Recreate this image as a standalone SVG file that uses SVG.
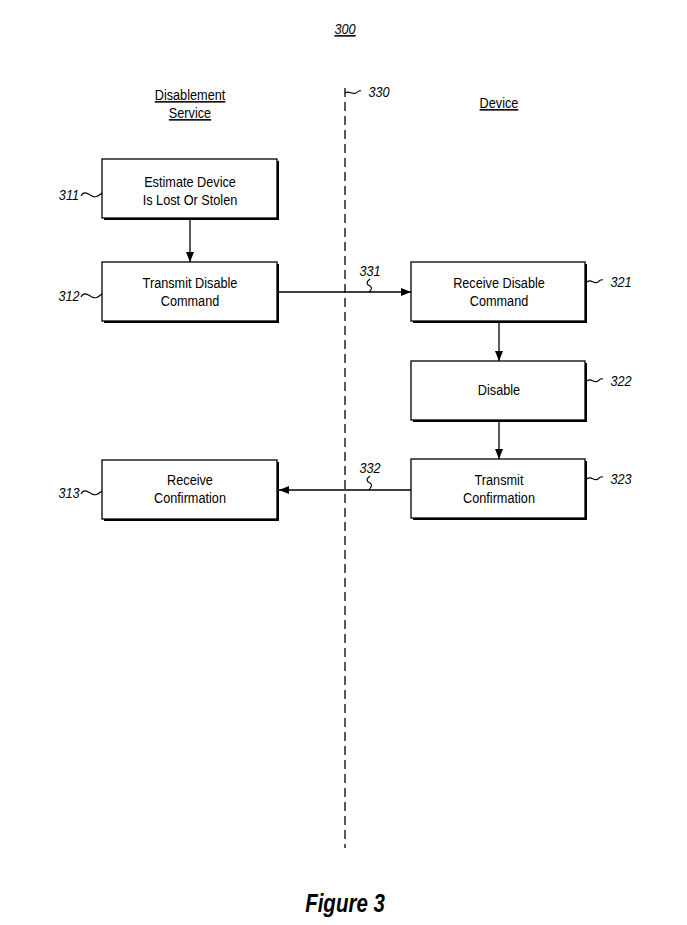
<svg xmlns="http://www.w3.org/2000/svg" width="687" height="925" viewBox="0 0 687 925">
<defs>
<style>
.box{fill:#fff;stroke:#000;stroke-width:1.3}
.sh{fill:#000}
.t,.ref,.fig{font-family:"Liberation Sans",Arial,sans-serif;text-anchor:middle;fill:#000;transform-box:fill-box;transform-origin:center;transform:scaleX(0.82)}
.t{font-size:15.5px}
.ref{font-size:15.5px;font-style:italic}
.fig{font-size:25px;font-weight:bold;font-style:italic}
.ln{fill:none;stroke:#000;stroke-width:1.3}
.sq{fill:none;stroke:#000;stroke-width:1.1}
</style>
<marker id="ah" markerWidth="10" markerHeight="8" refX="10" refY="4" orient="auto" markerUnits="userSpaceOnUse">
<path d="M0,0 L10,4 L0,8 Z" fill="#000"/>
</marker>
</defs>
<rect width="687" height="925" fill="#fff"/>

<text class="ref" x="345" y="34" text-decoration="underline">300</text>

<g id="headings">
<text class="t" x="190" y="100" text-decoration="underline">Disablement</text>
<text class="t" x="190" y="118" text-decoration="underline">Service</text>
<text class="t" x="499" y="108" text-decoration="underline">Device</text>
</g>

<g id="n330">
<line x1="345" y1="88" x2="345" y2="848" stroke="#000" stroke-width="1.3" stroke-dasharray="9,5"/>
<path class="sq" d="M345,93 C349,90 352,95 356,93 C358,92 359,90 361,91"/>
<text class="ref" x="379" y="97">330</text>
</g>

<g id="n311">
<rect class="sh" x="104" y="161" width="175" height="59"/>
<rect class="box" x="102" y="159" width="175" height="59"/>
<text class="t" x="190" y="187">Estimate Device</text>
<text class="t" x="190" y="205">Is Lost Or Stolen</text>
<text class="ref" x="69" y="200">311</text>
<path class="sq" d="M81,196 C84,190 88,194 92,196 C96,198 98,196 102,193"/>
</g>

<g id="n312">
<rect class="sh" x="104" y="264" width="175" height="59"/>
<rect class="box" x="102" y="262" width="175" height="59"/>
<text class="t" x="190" y="288">Transmit Disable</text>
<text class="t" x="190" y="306">Command</text>
<text class="ref" x="69" y="301">312</text>
<path class="sq" d="M81,297 C84,291 88,295 92,297 C96,299 98,297 102,294"/>
</g>

<g id="n313">
<rect class="sh" x="104" y="462" width="175" height="59"/>
<rect class="box" x="102" y="460" width="175" height="59"/>
<text class="t" x="190" y="485">Receive</text>
<text class="t" x="190" y="503">Confirmation</text>
<text class="ref" x="69" y="498">313</text>
<path class="sq" d="M81,494 C84,488 88,492 92,494 C96,496 98,494 102,491"/>
</g>

<g id="n321">
<rect class="sh" x="413" y="264" width="174" height="59"/>
<rect class="box" x="411" y="262" width="174" height="59"/>
<text class="t" x="499" y="288">Receive Disable</text>
<text class="t" x="499" y="306">Command</text>
<path class="sq" d="M587,282 C591,278 594,285 598,282 C600,280 601,279 603,280"/>
<text class="ref" x="621" y="287">321</text>
</g>

<g id="n322">
<rect class="sh" x="413" y="363" width="174" height="59"/>
<rect class="box" x="411" y="361" width="174" height="59"/>
<text class="t" x="499" y="395">Disable</text>
<path class="sq" d="M587,381 C591,377 594,384 598,381 C600,379 601,378 603,379"/>
<text class="ref" x="621" y="386">322</text>
</g>

<g id="n323">
<rect class="sh" x="413" y="461" width="174" height="59"/>
<rect class="box" x="411" y="459" width="174" height="59"/>
<text class="t" x="499" y="485">Transmit</text>
<text class="t" x="499" y="503">Confirmation</text>
<path class="sq" d="M587,479 C591,475 594,482 598,479 C600,477 601,476 603,477"/>
<text class="ref" x="621" y="484">323</text>
</g>

<g id="connectors">
<line class="ln" x1="190" y1="220" x2="190" y2="262" marker-end="url(#ah)"/>
<line class="ln" x1="279" y1="292" x2="411" y2="292" marker-end="url(#ah)"/>
<line class="ln" x1="499" y1="323" x2="499" y2="361" marker-end="url(#ah)"/>
<line class="ln" x1="499" y1="422" x2="499" y2="459" marker-end="url(#ah)"/>
<line class="ln" x1="411" y1="490" x2="279" y2="490" marker-end="url(#ah)"/>
<text class="ref" x="370" y="276">331</text>
<path class="sq" d="M370,279 C366,282 366,284 370,286 C373,288 371,290 369,292"/>
<text class="ref" x="370" y="473">332</text>
<path class="sq" d="M370,476 C366,479 366,481 370,483 C373,485 371,487 369,490"/>
</g>

<text class="fig" x="345" y="912">Figure 3</text>
</svg>
